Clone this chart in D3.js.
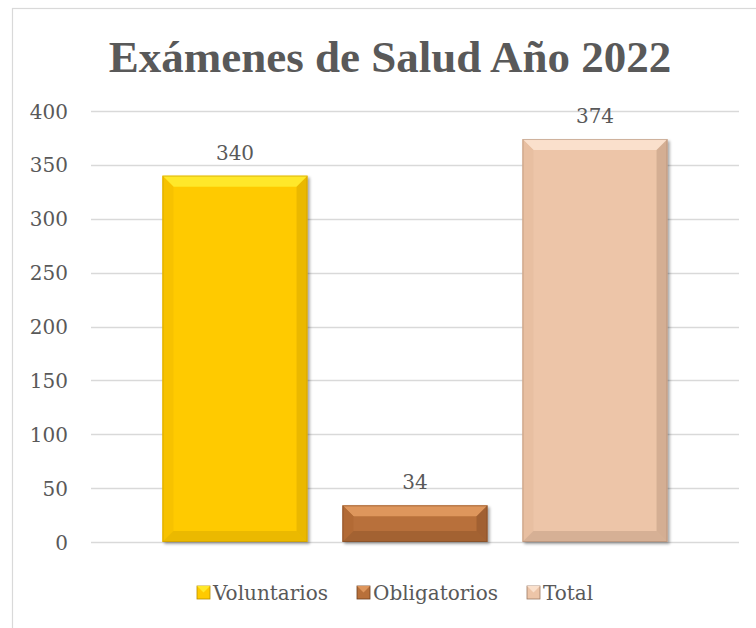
<!DOCTYPE html>
<html>
<head>
<meta charset="utf-8">
<script src="https://cdn.jsdelivr.net/npm/d3@7"></script>
<style>
  body { margin: 0; background: #fff; }
  svg text { font-family: "DejaVu Serif", serif; fill: #595959; }
</style>
</head>
<body>
<div class="chart"></div>
<script>
// chart data
var categories = ["Voluntarios", "Obligatorios", "Total"];
var values = [340, 34, 374];
var yTicks = [0, 50, 100, 150, 200, 250, 300, 350, 400];
var title = "Exámenes de Salud Año 2022";

// colours: body, light bevel, side bevel, dark bevel
var colors = {
  "Voluntarios":  {base: "#FFCA00", light: "#FFE82A", side: "#F7C200", dark: "#B88E00"},
  "Obligatorios": {base: "#B8703A", light: "#DE965C", side: "#B26B35", dark: "#6E4020"},
  "Total":        {base: "#EDC5A8", light: "#FAE0CC", side: "#E8BFA1", dark: "#9C7A64"}
};

var svgWidth = 756, svgHeight = 628;
var plot = {left: 91, right: 739, top: 111, bottom: 542};

var svg = d3.select(".chart")
  .append("svg")
  .attr("width", svgWidth)
  .attr("height", svgHeight);

// outer chart border
svg.append("rect")
  .attr("x", 12.5).attr("y", 8.5)
  .attr("width", 900).attr("height", 900)
  .attr("fill", "#fff")
  .attr("stroke", "#d9d9d9")
  .attr("stroke-width", 1.2);

// title
svg.append("text")
  .attr("x", 390).attr("y", 72)
  .attr("text-anchor", "middle")
  .style("font-family", "'Liberation Serif', serif")
  .style("font-weight", "bold")
  .style("font-size", "45px")
  .text(title);

// scales
var x = d3.scaleBand()
  .domain(categories)
  .range([plot.left, plot.right])
  .paddingInner(0.194)
  .paddingOuter(0.397);

var y = d3.scaleLinear()
  .domain([0, 400])
  .range([plot.bottom, plot.top]);

// gridlines
svg.append("g")
  .selectAll("line")
  .data(yTicks)
  .enter()
  .append("line")
  .attr("x1", plot.left).attr("x2", plot.right)
  .attr("y1", function(d) { return Math.round(y(d)) + 0.5; })
  .attr("y2", function(d) { return Math.round(y(d)) + 0.5; })
  .attr("stroke", "#d9d9d9")
  .attr("stroke-width", 1.5);

// y axis labels
var yAxis = d3.axisLeft(y).tickValues(yTicks).tickSize(0).tickPadding(0);
var gy = svg.append("g")
  .attr("transform", "translate(68,0)")
  .call(yAxis);
gy.select(".domain").remove();
gy.selectAll("text")
  .style("font-size", "20px")
  .attr("fill", "#595959")
  .attr("dy", "0.35em");

// defs for shadow
var defs = svg.append("defs");
var shadow = defs.append("filter").attr("id", "shadow")
  .attr("x", "-10%").attr("y", "-10%").attr("width", "130%").attr("height", "130%");
shadow.append("feGaussianBlur").attr("in", "SourceAlpha").attr("stdDeviation", 1.5);
shadow.append("feOffset").attr("dx", 1.5).attr("dy", 1.5).attr("result", "blur");
shadow.append("feComponentTransfer").append("feFuncA").attr("type", "linear").attr("slope", 0.35);
var merge = shadow.append("feMerge");
merge.append("feMergeNode");
merge.append("feMergeNode").attr("in", "SourceGraphic");

// bars with bevel
var bevel = 11;
var bars = svg.append("g")
  .selectAll("g")
  .data(categories)
  .enter()
  .append("g")
  .attr("filter", "url(#shadow)");

bars.each(function(c, i) {
  var g = d3.select(this);
  var x0 = x(c), x1 = x(c) + x.bandwidth();
  var y0 = y(values[i]), y1 = y(0);
  var b = Math.min(bevel, (y1 - y0) / 2);
  var col = colors[c];
  g.append("rect")
    .attr("x", x0).attr("y", y0)
    .attr("width", x1 - x0).attr("height", y1 - y0)
    .attr("fill", col.base);
  // top
  g.append("polygon")
    .attr("points", [[x0, y0], [x1, y0], [x1 - b, y0 + b], [x0 + b, y0 + b]].join(" "))
    .attr("fill", col.light);
  // left
  g.append("polygon")
    .attr("points", [[x0, y0], [x0 + b, y0 + b], [x0 + b, y1 - b], [x0, y1]].join(" "))
    .attr("fill", col.side);
  // right
  g.append("polygon")
    .attr("points", [[x1, y0], [x1 - b, y0 + b], [x1 - b, y1 - b], [x1, y1]].join(" "))
    .attr("fill", col.dark).attr("opacity", 0.3);
  // bottom
  g.append("polygon")
    .attr("points", [[x0, y1], [x0 + b, y1 - b], [x1 - b, y1 - b], [x1, y1]].join(" "))
    .attr("fill", col.dark).attr("opacity", 0.28);
  g.append("rect")
    .attr("x", x0 + 0.5).attr("y", y0 + 0.5)
    .attr("width", x1 - x0 - 1).attr("height", y1 - y0 - 1)
    .attr("fill", "none")
    .attr("stroke", col.dark).attr("stroke-opacity", 0.45);
});

// value labels
svg.append("g")
  .selectAll("text")
  .data(categories)
  .enter()
  .append("text")
  .attr("x", function(c) { return x(c) + x.bandwidth() / 2; })
  .attr("y", function(c, i) { return y(values[i]) - 16; })
  .attr("text-anchor", "middle")
  .style("font-size", "20px")
  .text(function(c, i) { return values[i]; });

// legend
var legendX = [197, 357, 527];
var legend = svg.append("g")
  .selectAll("g")
  .data(categories)
  .enter()
  .append("g")
  .attr("transform", function(c, i) { return "translate(" + legendX[i] + ",593)"; });

legend.append("rect")
  .attr("x", 0).attr("y", -7)
  .attr("width", 13).attr("height", 13)
  .attr("fill", function(c) { return colors[c].base; })
  .attr("stroke", function(c) { return colors[c].dark; })
  .attr("stroke-width", 0.8);
legend.append("polygon")
  .attr("points", "0,-7 13,-7 6.5,-0.5")
  .attr("fill", function(c) { return colors[c].light; });

legend.append("text")
  .attr("x", 16).attr("y", 0)
  .attr("dy", "0.35em")
  .style("font-size", "20px")
  .text(function(c) { return c; });
</script>
</body>
</html>
